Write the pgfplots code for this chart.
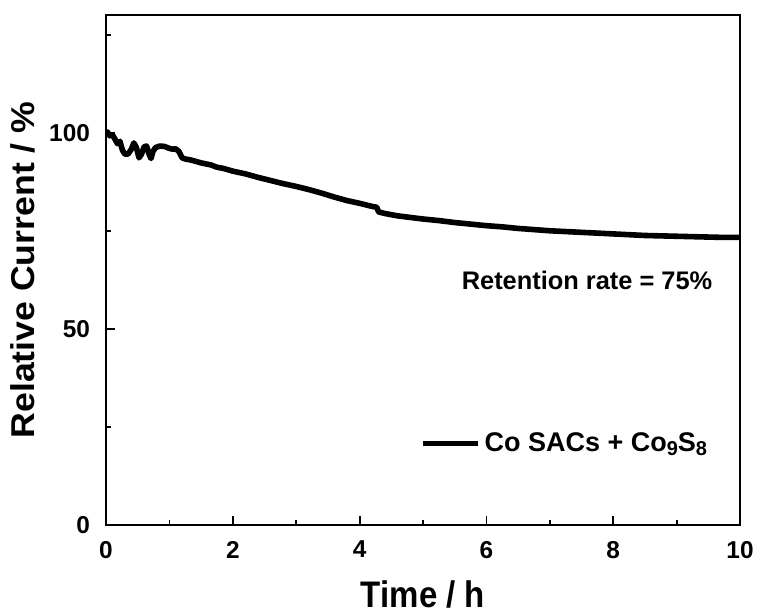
\documentclass[border=0pt]{standalone}
\usepackage{fontspec}
\setmainfont{Liberation Sans}
\usepackage{graphicx}
\usepackage{pgfplots}
\pgfplotsset{compat=1.18}
\newcommand{\sub}[1]{\raisebox{-0.32ex}{\fontsize{10}{10}\selectfont\bfseries #1}}
\begin{document}
\begin{tikzpicture}
\begin{axis}[
  name=ax,
  scale only axis,
  width=317pt, height=255pt,
  xmin=0, xmax=10, ymin=0, ymax=130,
  xtick={0,2,4,6,8,10},
  ytick={0,50,100},
  minor xtick={1,3,5,7,9},
  minor ytick={25,75,125},
  xtick pos=bottom, ytick pos=left,
  tick align=inside,
  major tick length=4.5pt,
  minor tick length=2.3pt,
  axis line style={line width=0.9pt},
  every tick/.style={line width=0.9pt, black},
  /pgf/number format/assume math mode=true,
  ticklabel style={font=\fontsize{12.2}{13}\selectfont\bfseries},
  yticklabel style={xshift=-4.5pt},
  xticklabel style={yshift=-4.5pt},
  xlabel={\scalebox{1}[1.12]{Time / h}},
  ylabel={\scalebox{1.08}[1]{Relative Current / \%}},
  xlabel style={font=\fontsize{16.5}{19}\selectfont\bfseries, at={(axis description cs:0.5,-0.161)}, anchor=base},
  ylabel style={font=\fontsize{16.5}{19}\selectfont\bfseries, at={(axis description cs:-0.112,0.5)}, anchor=base},
  legend style={at={(axis description cs:0.955,0.16)}, anchor=east, draw=none, fill=none,
    font=\fontsize{13.5}{15}\selectfont\bfseries, inner sep=0pt},
  legend cell align=left,
  legend image code/.code={\draw[#1, line width=2.6pt] (0pt,0pt) -- (27.5pt,0pt);},
]
\addplot[black, line width=2.8pt, line join=round] coordinates {
(0,100.4) (0.03,100) (0.06,99.2) (0.1,99.5) (0.14,98.4) (0.18,97.2) (0.22,97.8)
(0.26,95.5) (0.3,94.5) (0.35,94.6) (0.4,95.8) (0.44,97.4) (0.48,96.2) (0.52,93.6)
(0.56,94.5) (0.6,96.4) (0.64,96.6) (0.68,94.5) (0.71,93.4) (0.74,95.2) (0.78,96.2)
(0.85,96.6) (0.92,96.5) (1.0,96.0) (1.05,95.8) (1.1,95.9) (1.15,95.2) (1.2,93.6) (1.25,93.3)
(1.35,93.0) (1.5,92.3) (1.65,91.8) (1.75,91.2) (1.85,90.9) (2.0,90.2) (2.2,89.5)
(2.4,88.6) (2.6,87.8) (2.8,87.0) (3.0,86.3) (3.2,85.5) (3.4,84.6) (3.6,83.6)
(3.8,82.7) (4.0,82.0) (4.2,81.2) (4.27,81.0) (4.3,79.8) (4.4,79.4) (4.6,78.8)
(4.8,78.4) (5.0,78.0) (5.25,77.6) (5.5,77.1) (5.75,76.7) (6.0,76.3) (6.25,76.0)
(6.5,75.6) (6.75,75.3) (7.0,75.0) (7.25,74.8) (7.5,74.6) (7.75,74.4) (8.0,74.2)
(8.25,74.0) (8.5,73.8) (8.75,73.7) (9.0,73.6) (9.25,73.5) (9.5,73.4) (9.75,73.3)
(10.0,73.3)
};
\addlegendentry{Co SACs + Co\sub{9}S\sub{8}}
\node[anchor=east, inner sep=0pt, font=\fontsize{12.7}{14}\selectfont\bfseries] at (axis description cs:0.957,0.480) {Retention rate = 75\%};
\end{axis}
\pgfresetboundingbox
\path ([shift={(-53pt,-43.5pt)}]ax.south west) rectangle ([shift={(9pt,7.5pt)}]ax.north east);
\end{tikzpicture}
\end{document}
